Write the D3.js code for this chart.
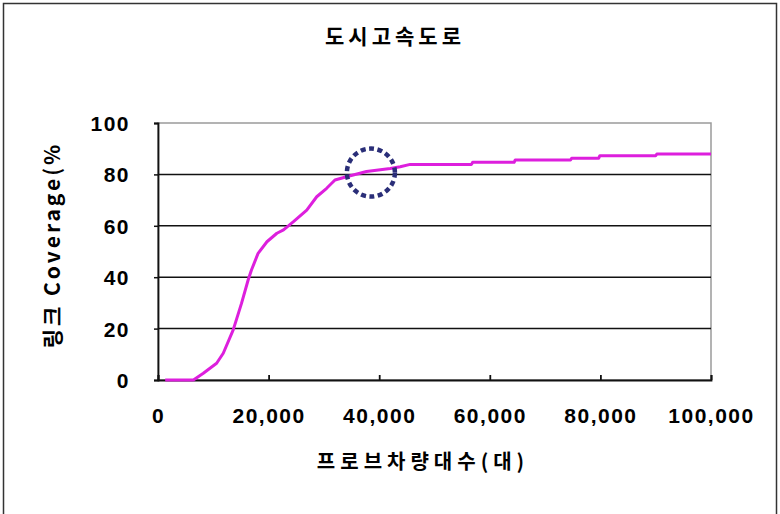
<!DOCTYPE html>
<html>
<head>
<meta charset="utf-8">
<script src="https://cdn.jsdelivr.net/npm/d3@7/dist/d3.min.js"></script>
<style>
  html, body { margin: 0; padding: 0; background: #fff; }
  svg { display: block; }
</style>
</head>
<body>
<svg id="chart" width="780" height="514"></svg>
<script>
// Probe vehicle count vs. link coverage on urban expressways
const chartTitle = "도시고속도로";
const xTitle = "프로브차량대수(대)";
const yTitle = "링크 Coverage(%";

const vehicles = [1300, 6400, 8200, 10600, 11800, 13600, 15100, 16300, 16900, 18100,
  19700, 21500, 22700, 24500, 26900, 28700, 30500, 32000, 34100, 37700,
  42000, 43800, 45600, 56700, 56900, 64400, 64600, 74600, 74800, 79700,
  79900, 90000, 90200, 100000];
const coverage = [0, 0, 2.6, 6.5, 10.4, 19.5, 29.8, 38.9, 42.8, 49.3,
  53.8, 57.1, 58.4, 61.6, 66.1, 71.3, 74.6, 77.8, 79.1, 81.1,
  82.3, 83.0, 83.9, 83.9, 84.7, 84.7, 85.6, 85.6, 86.3, 86.3,
  87.3, 87.3, 87.9, 87.9];

const xTicks = [0, 20000, 40000, 60000, 80000, 100000];
const yTicks = [0, 20, 40, 60, 80, 100];

// highlighted saturation point
const markerPoint = [38500, 80.7];

const svg = d3.select("#chart");
const plot = { left: 158, right: 711, top: 123, bottom: 380 };

const x = d3.scaleLinear().domain([0, 100000]).range([plot.left, plot.right]);
const y = d3.scaleLinear().domain([0, 100]).range([plot.bottom, plot.top]);

// outer frame
svg.append("rect")
  .attr("x", 3.5).attr("y", 3.5)
  .attr("width", 773).attr("height", 530)
  .attr("fill", "#fff")
  .attr("stroke", "#333").attr("stroke-width", 1.5);

// plot border (top/right in grey)
svg.append("rect")
  .attr("x", plot.left).attr("y", plot.top)
  .attr("width", plot.right - plot.left).attr("height", plot.bottom - plot.top)
  .attr("fill", "#fff").attr("stroke", "#9a9a9a").attr("stroke-width", 1.5);

// horizontal gridlines
svg.append("g")
  .selectAll("line")
  .data(yTicks.filter(d => d > 0 && d < 100))
  .join("line")
  .attr("x1", plot.left).attr("x2", plot.right)
  .attr("y1", d => y(d)).attr("y2", d => y(d))
  .attr("stroke", "#111").attr("stroke-width", 1.5);

const numFont = "'Liberation Sans', Arial, sans-serif";
const korFont = "'Noto Sans CJK KR', 'Noto Sans', sans-serif";

// y axis
const yAxis = svg.append("g")
  .attr("transform", `translate(${plot.left},0)`)
  .call(d3.axisLeft(y).tickValues(yTicks).tickSize(4).tickPadding(24).tickFormat(d3.format("d")));
yAxis.select(".domain").attr("stroke", "#111").attr("stroke-width", 1.8);
yAxis.selectAll(".tick line").attr("stroke", "#111").attr("stroke-width", 1.5);
yAxis.selectAll(".tick text")
  .attr("fill", "#000")
  .style("font-family", numFont)
  .style("font-weight", "bold")
  .style("font-size", "21px")
  .style("letter-spacing", "1.5px")
  .attr("dy", "0.36em");

// x axis with ticks pointing into the plot
const xAxis = svg.append("g")
  .attr("transform", `translate(0,${plot.bottom})`)
  .call(d3.axisBottom(x).tickValues(xTicks).tickSize(-5).tickPadding(28).tickFormat(d3.format(",")));
xAxis.select(".domain").attr("stroke", "#111").attr("stroke-width", 1.8);
xAxis.selectAll(".tick line").attr("stroke", "#111").attr("stroke-width", 1.8);
xAxis.selectAll(".tick text")
  .attr("fill", "#000")
  .style("font-family", numFont)
  .style("font-weight", "bold")
  .style("font-size", "21px")
  .style("letter-spacing", "1.5px");

// coverage curve
const pts = vehicles.map((v, i) => [v, coverage[i]]);
svg.append("path")
  .datum(pts)
  .attr("fill", "none")
  .attr("stroke", "#dd1fdd")
  .attr("stroke-width", 3)
  .attr("stroke-linejoin", "round")
  .attr("d", d3.line().x(d => x(d[0])).y(d => y(d[1])));

// dotted circle around the saturation point
svg.append("circle")
  .attr("cx", x(markerPoint[0])).attr("cy", y(markerPoint[1]))
  .attr("r", 24)
  .attr("fill", "none")
  .attr("stroke", "#2a2e78")
  .attr("stroke-width", 4.5)
  .attr("stroke-dasharray", "5,3.5");

// titles
svg.append("text")
  .attr("x", 395).attr("y", 44)
  .attr("text-anchor", "middle")
  .style("font-family", korFont).style("font-weight", "bold")
  .style("font-size", "21px").style("letter-spacing", "4px")
  .text(chartTitle);

svg.append("text")
  .attr("x", 423).attr("y", 469)
  .attr("text-anchor", "middle")
  .style("font-family", korFont).style("font-weight", "bold")
  .style("font-size", "20px").style("letter-spacing", "5px")
  .text(xTitle);

svg.append("text")
  .attr("transform", "translate(60,245) rotate(-90)")
  .attr("text-anchor", "middle")
  .style("font-family", korFont).style("font-weight", "bold")
  .style("font-size", "21px").style("letter-spacing", "3px")
  .text(yTitle);
</script>
</body>
</html>
